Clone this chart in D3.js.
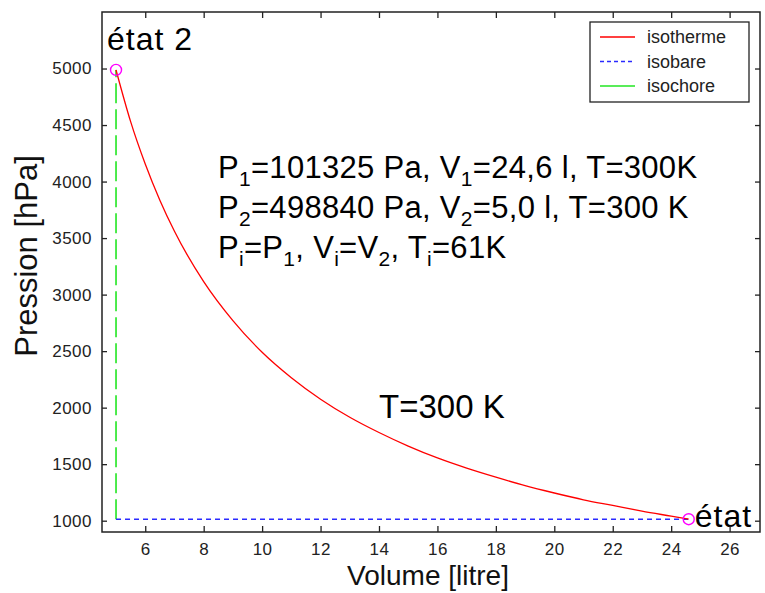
<!DOCTYPE html>
<html>
<head>
<meta charset="utf-8">
<script src="https://cdn.jsdelivr.net/npm/d3@7"></script>
<style>
  body { margin: 0; background: #fff; }
  svg { display: block; font-family: "Liberation Sans", Arial, sans-serif; }
</style>
</head>
<body>
<svg id="chart" width="765" height="593"></svg>
<script>
// isotherme (volume in litres, pressure in hPa)
let volumes   = [5, 5.5, 6, 6.5, 7, 8, 9, 10, 11, 12, 13, 14, 15, 16, 17, 18, 19, 20, 21, 22, 23, 24, 24.6];
let pressures = [4988, 4530, 4155, 3835, 3560, 3115, 2770, 2490, 2265, 2075, 1915, 1780, 1660, 1555, 1465, 1385, 1310, 1245, 1185, 1135, 1085, 1040, 1013];

// isobare and isochore end points
let isobareV = [5, 24.6];
let isobareP = [1013, 1013];
let isochoreV = [5, 5];
let isochoreP = [1013, 4988];

// the two states
let stateV = [5, 24.6];
let stateP = [4988, 1013];
let stateNames = ["état 2", "état 1"];

let xTicks = [6, 8, 10, 12, 14, 16, 18, 20, 22, 24, 26];
let yTicks = [1000, 1500, 2000, 2500, 3000, 3500, 4000, 4500, 5000];

let legendNames = ["isotherme", "isobare", "isochore"];
let legendColors = ["#ff0000", "#2a2aff", "#22e622"];

// annotation lines: [text, subscript] pieces
let infoLines = [
  [["P", "1"], ["=101325 Pa, V", "1"], ["=24,6 l, T=300K", ""]],
  [["P", "2"], ["=498840 Pa, V", "2"], ["=5,0 l, T=300 K", ""]],
  [["P", "i"], ["=P", "1"], [", V", "i"], ["=V", "2"], [", T", "i"], ["=61K", ""]]
];
let curveLabel = "T=300 K";
let xTitle = "Volume [litre]";
let yTitle = "Pression [hPa]";

let svg = d3.select("#chart");
let mLeft = 102, mRight = 760, mTop = 12, mBottom = 532;

let x = d3.scaleLinear().domain([4.52, 27.04]).range([mLeft, mRight]);
let y = d3.scaleLinear().domain([900, 5500]).range([mBottom, mTop]);

svg.append("defs").append("clipPath").attr("id", "plotClip")
  .append("rect")
  .attr("x", mLeft).attr("y", mTop)
  .attr("width", mRight - mLeft).attr("height", mBottom - mTop);

let plot = svg.append("g").attr("clip-path", "url(#plotClip)");

// isochore (green dashed)
plot.append("path")
  .datum(isochoreV.map((v, i) => [v, isochoreP[i]]))
  .attr("fill", "none")
  .attr("stroke", legendColors[2])
  .attr("stroke-width", 1.6)
  .attr("stroke-dasharray", "20,6")
  .attr("d", d3.line().x(d => x(d[0])).y(d => y(d[1])));

// isobare (blue dashed)
plot.append("path")
  .datum(isobareV.map((v, i) => [v, isobareP[i]]))
  .attr("fill", "none")
  .attr("stroke", legendColors[1])
  .attr("stroke-width", 1.6)
  .attr("stroke-dasharray", "5,4")
  .attr("d", d3.line().x(d => x(d[0])).y(d => y(d[1])));

// isotherme (red)
plot.append("path")
  .datum(volumes.map((v, i) => [v, pressures[i]]))
  .attr("fill", "none")
  .attr("stroke", legendColors[0])
  .attr("stroke-width", 1.3)
  .attr("d", d3.line().curve(d3.curveMonotoneX).x(d => x(d[0])).y(d => y(d[1])));

// state markers
plot.selectAll("circle.state")
  .data(stateV)
  .join("circle")
  .attr("class", "state")
  .attr("cx", d => x(d))
  .attr("cy", (d, i) => y(stateP[i]))
  .attr("r", 5.5)
  .attr("fill", "none")
  .attr("stroke", "#ff00ff")
  .attr("stroke-width", 1.4);

// state labels
plot.append("text")
  .attr("x", x(stateV[0]) - 9).attr("y", 50)
  .attr("font-size", 32).attr("letter-spacing", 1).attr("fill", "#000")
  .text(stateNames[0]);
plot.append("text")
  .attr("x", x(stateV[1]) + 6).attr("y", 527)
  .attr("font-size", 32).attr("letter-spacing", 1).attr("fill", "#000")
  .text(stateNames[1]);

// T=300 K label
svg.append("text")
  .attr("x", 379).attr("y", 418)
  .attr("font-size", 33).attr("fill", "#000")
  .text(curveLabel);

// info block
infoLines.forEach(function (line, li) {
  let t = svg.append("text")
    .attr("x", 218).attr("y", 178 + li * 40)
    .attr("font-size", 31).attr("letter-spacing", 0.3).attr("fill", "#000");
  let shifted = false;
  line.forEach(function (piece) {
    t.append("tspan").attr("dy", shifted ? -8 : null).text(piece[0]);
    shifted = false;
    if (piece[1] !== "") {
      t.append("tspan").attr("dy", 8).attr("font-size", 21).text(piece[1]);
      shifted = true;
    }
  });
});

// axes box
svg.append("rect")
  .attr("x", mLeft).attr("y", mTop)
  .attr("width", mRight - mLeft).attr("height", mBottom - mTop)
  .attr("fill", "none").attr("stroke", "#222").attr("stroke-width", 1.5);

let axisStyle = function (g) {
  g.select(".domain").remove();
  g.selectAll(".tick line").attr("stroke", "#222").attr("stroke-width", 1.3);
  g.selectAll(".tick text").attr("fill", "#222")
    .attr("font-family", "'Liberation Sans', Arial, sans-serif")
    .attr("font-size", 17).attr("letter-spacing", 0.5);
};

svg.append("g").attr("transform", `translate(0,${mBottom})`)
  .call(d3.axisBottom(x).tickValues(xTicks).tickSize(-6).tickPadding(11).tickFormat(d3.format("d")))
  .call(axisStyle);
svg.append("g").attr("transform", `translate(0,${mTop})`)
  .call(d3.axisTop(x).tickValues(xTicks).tickSize(-6).tickFormat(""))
  .call(axisStyle);
svg.append("g").attr("transform", `translate(${mLeft},0)`)
  .call(d3.axisLeft(y).tickValues(yTicks).tickSize(-5).tickPadding(10).tickFormat(d3.format("d")))
  .call(axisStyle);
svg.append("g").attr("transform", `translate(${mRight},0)`)
  .call(d3.axisRight(y).tickValues(yTicks).tickSize(-5).tickFormat(""))
  .call(axisStyle);

// axis titles
svg.append("text")
  .attr("x", 428).attr("y", 585)
  .attr("text-anchor", "middle").attr("font-size", 28).attr("fill", "#111")
  .text(xTitle);
svg.append("text")
  .attr("transform", "translate(37,256) rotate(-90)")
  .attr("text-anchor", "middle").attr("font-size", 31).attr("fill", "#111")
  .text(yTitle);

// legend
let lg = svg.append("g");
lg.append("rect")
  .attr("x", 590).attr("y", 22).attr("width", 159).attr("height", 80)
  .attr("fill", "#fff").attr("stroke", "#222").attr("stroke-width", 1.3);
legendNames.forEach(function (name, i) {
  let ly = 37 + i * 24.5;
  lg.append("line")
    .attr("x1", 600).attr("x2", 635).attr("y1", ly).attr("y2", ly)
    .attr("stroke", legendColors[i]).attr("stroke-width", 1.4)
    .attr("stroke-dasharray", i === 1 ? "4,3" : null);
  lg.append("text")
    .attr("x", 647).attr("y", ly).attr("dy", "0.35em")
    .attr("font-size", 18).attr("fill", "#222")
    .text(name);
});
</script>
</body>
</html>
